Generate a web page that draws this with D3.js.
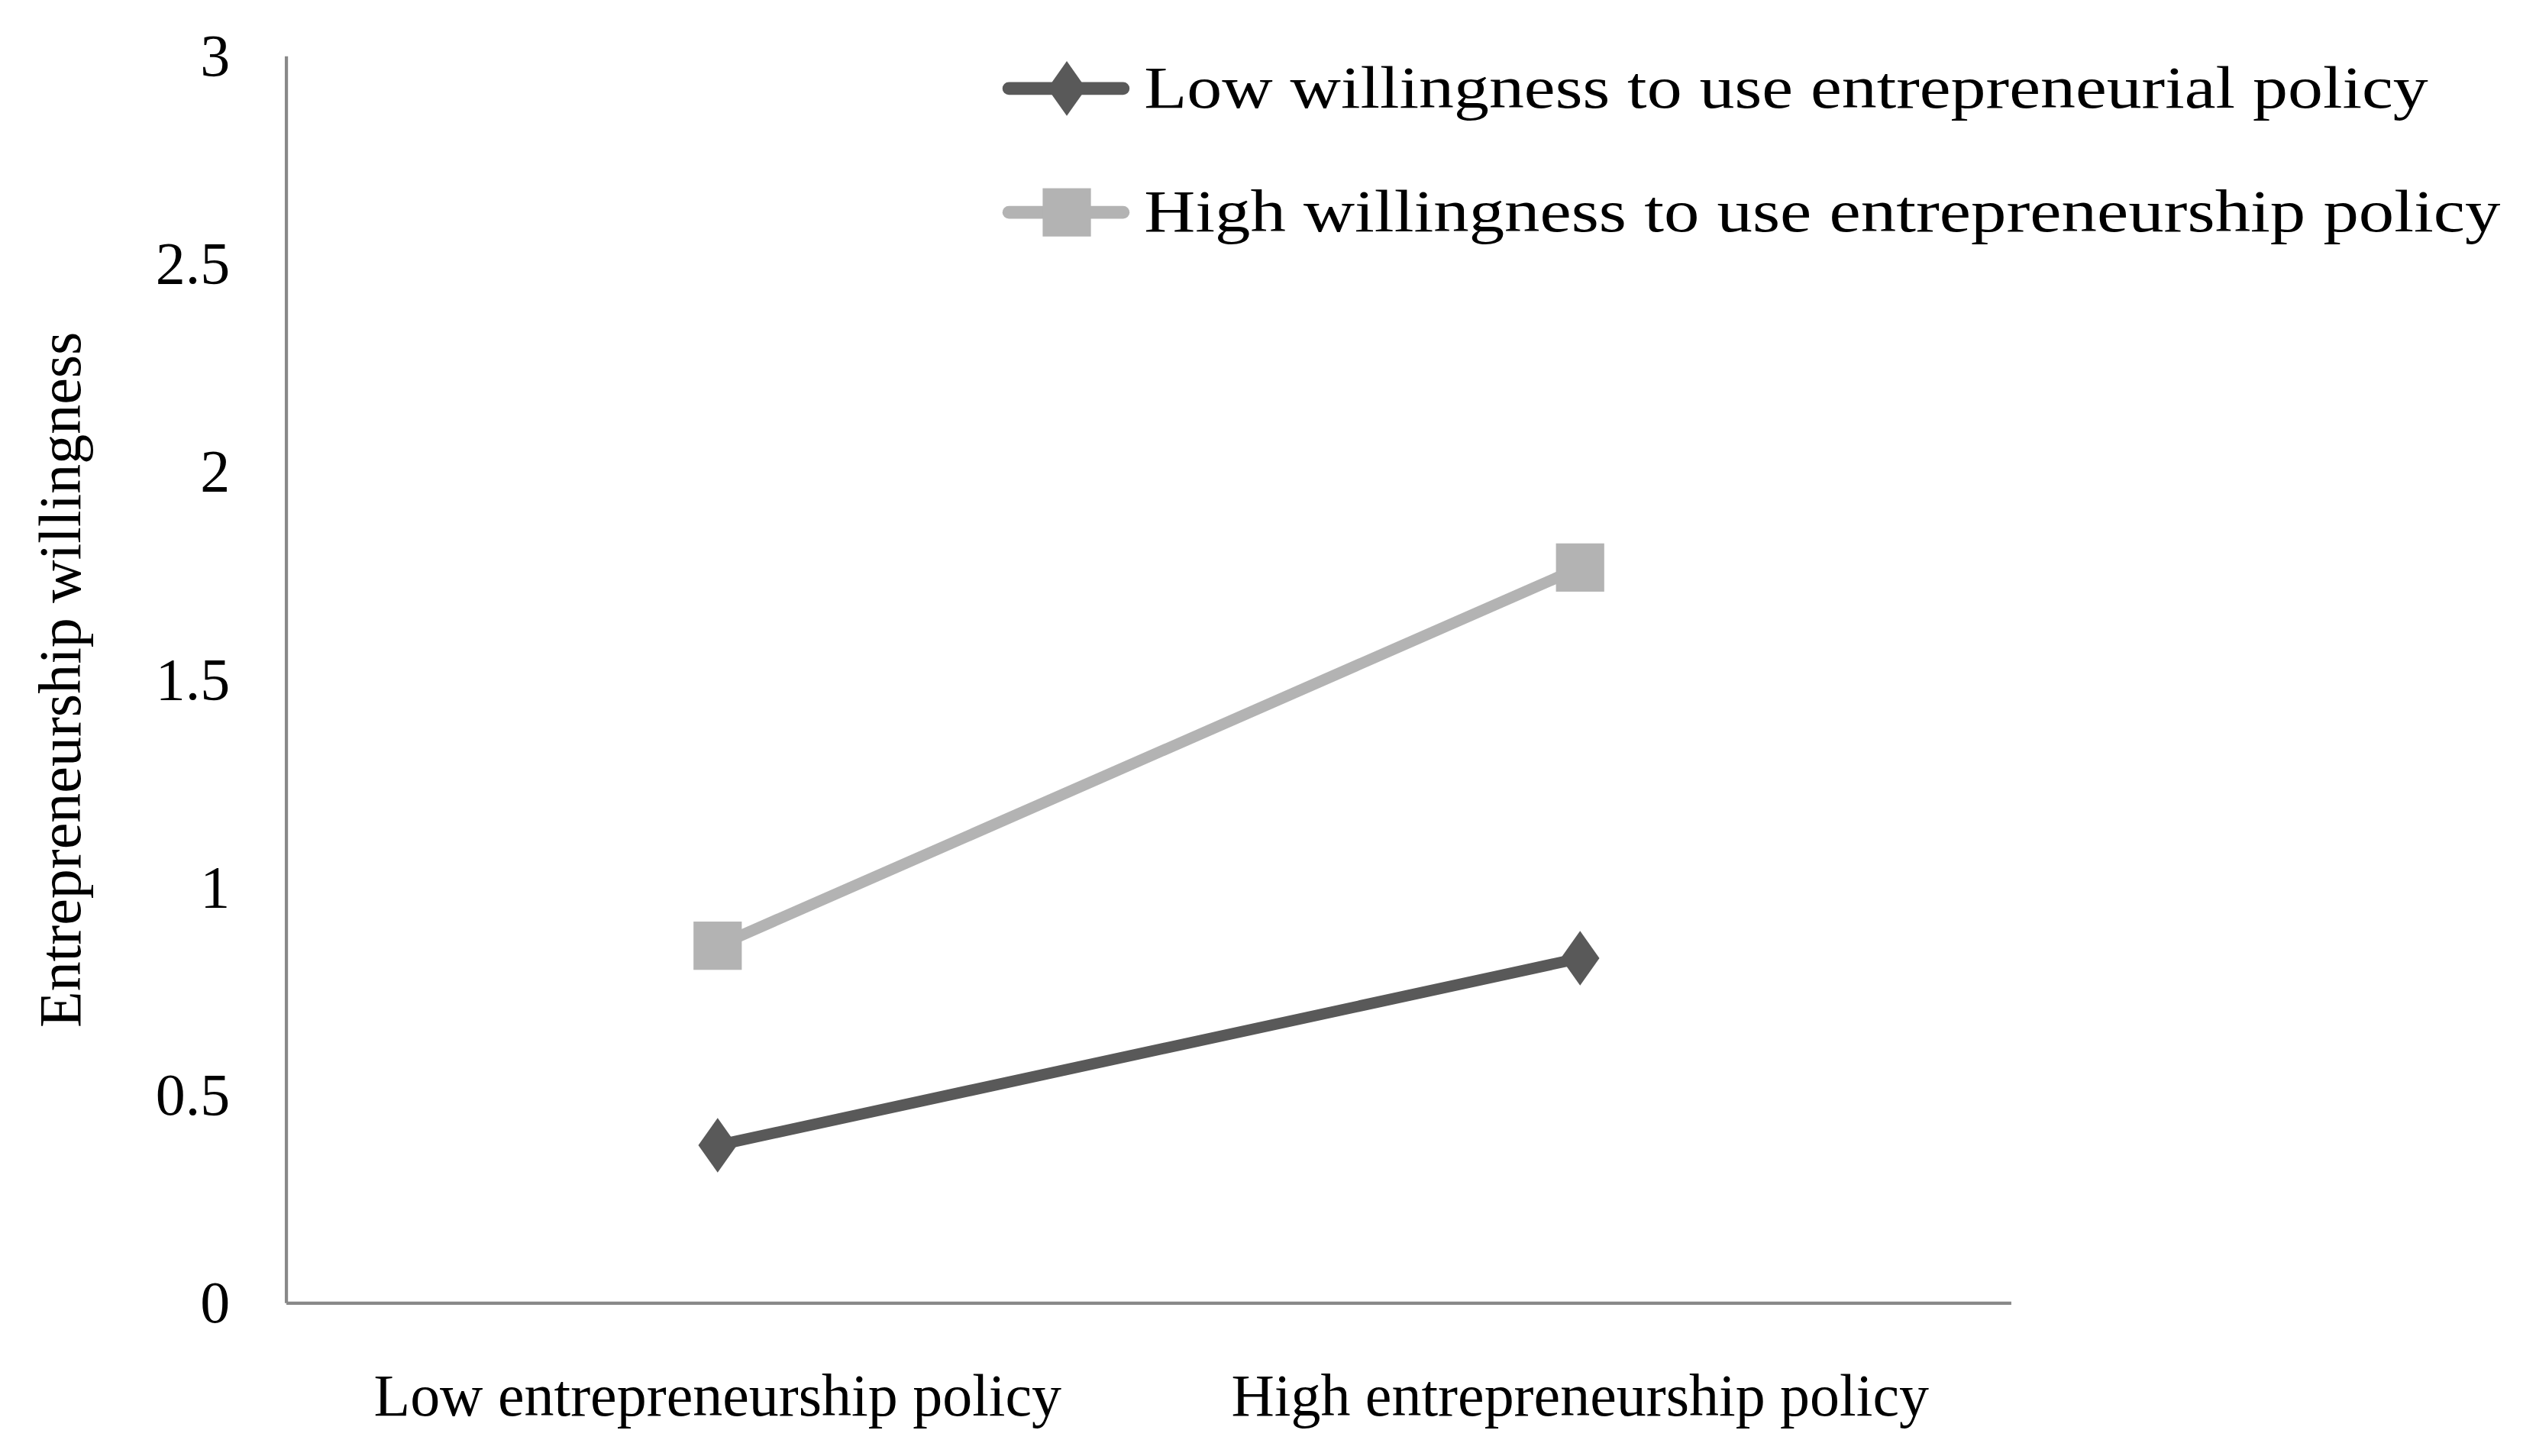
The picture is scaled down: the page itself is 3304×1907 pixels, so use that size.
<!DOCTYPE html>
<html><head><meta charset="utf-8">
<script src="https://cdn.jsdelivr.net/npm/d3@7"></script>
<style>body{margin:0;background:#fff}</style>
</head><body><div id="chart"></div>
<script>
/* Data */
var categories = ["Low entrepreneurship policy", "High entrepreneurship policy"],
    seriesNames = ["Low willingness to use entrepreneurial policy", "High willingness to use entrepreneurship policy"],
    lowValues = [0.38, 0.83],
    highValues = [0.86, 1.77],
    yTicks = [0, 0.5, 1, 1.5, 2, 2.5, 3];

/* Settings (drawn in a 1568-wide space, scaled up) */
var W = 1568, H = 905,
    font = "'Liberation Serif', 'DejaVu Serif', serif",
    fs = 37;

var svg = d3.select("#chart").append("svg")
    .attr("width", 3304).attr("height", 1907)
    .attr("viewBox", "0 0 " + W + " " + H);

var x = d3.scalePoint().domain(categories).range([178, 1250]).padding(0.5);
var y = d3.scaleLinear().domain([0, 3]).range([810, 35]);

/* Axes */
svg.append("line").attr("x1", 178).attr("x2", 178).attr("y1", y(3)).attr("y2", y(0))
  .attr("stroke", "#898989").attr("stroke-width", 2);
svg.append("line").attr("x1", 178).attr("x2", 1250).attr("y1", y(0)).attr("y2", y(0))
  .attr("stroke", "#898989").attr("stroke-width", 2);

svg.selectAll(".ytick").data(yTicks).enter().append("text")
  .attr("x", 143).attr("y", function(d) { return y(d) + 12; })
  .attr("text-anchor", "end").attr("font-family", font).attr("font-size", fs)
  .text(function(d) { return d; });

svg.selectAll(".xlab").data(categories).enter().append("text")
  .attr("x", function(d) { return x(d); }).attr("y", 880)
  .attr("text-anchor", "middle").attr("font-family", font).attr("font-size", fs)
  .text(function(d) { return d; });

svg.append("text")
  .attr("transform", "translate(50," + y(1.5) + ") rotate(-90)")
  .attr("text-anchor", "middle").attr("font-family", font).attr("font-size", fs)
  .text("Entrepreneurship willingness");

/* Series */
var series = [
  {name: seriesNames[0], values: lowValues, color: "#595959", shape: d3.symbolDiamond},
  {name: seriesNames[1], values: highValues, color: "#b3b3b3", shape: d3.symbolSquare}
];

var line = d3.line().x(function(d, i) { return x(categories[i]); }).y(function(d) { return y(d); });

function marker(g, s, cx, cy) {
  if (s.shape === d3.symbolDiamond) {
    g.append("path").attr("d", "M0,-17L12,0L0,17L-12,0Z")
      .attr("transform", "translate(" + cx + "," + cy + ")").attr("fill", s.color);
  } else {
    g.append("rect").attr("x", cx - 15).attr("y", cy - 15).attr("width", 30).attr("height", 30)
      .attr("fill", s.color);
  }
}

series.forEach(function(s, k) {
  svg.append("path").datum(s.values).attr("d", line)
    .attr("fill", "none").attr("stroke", s.color).attr("stroke-width", 7);
  s.values.forEach(function(v, i) { marker(svg, s, x(categories[i]), y(v)); });

  /* Legend */
  var ly = 55 + k * 77;
  svg.append("line").attr("x1", 627).attr("x2", 698).attr("y1", ly).attr("y2", ly)
    .attr("stroke", s.color).attr("stroke-width", 8).attr("stroke-linecap", "round");
  marker(svg, s, 663, ly);
  svg.append("text").attr("x", 711).attr("y", ly + 12)
    .attr("font-family", font).attr("font-size", fs)
    .attr("textLength", k === 0 ? 798 : 843).attr("lengthAdjust", "spacingAndGlyphs")
    .text(s.name);
});
</script></body></html>
